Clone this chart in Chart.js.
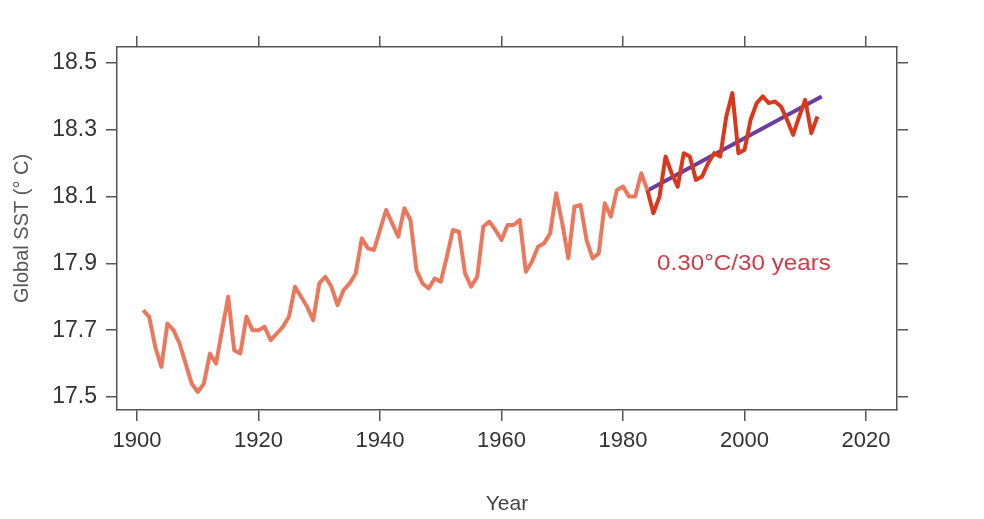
<!DOCTYPE html>
<html>
<head>
<meta charset="utf-8">
<script src="https://cdn.jsdelivr.net/npm/chart.js@4/dist/chart.umd.min.js"></script>
<style>
  body { margin: 0; background: #fff; }
  #wrap { width: 984px; height: 519px; }
</style>
</head>
<body>
<div id="wrap"><canvas id="sst" width="984" height="519"></canvas></div>
<script>
// Global SST, annual values
const earlyYears = [];
for (let y = 1901; y <= 1984; y++) earlyYears.push(y);
const earlySST = [
  17.76, 17.74, 17.65, 17.59, 17.72, 17.70, 17.66, 17.60, 17.54, 17.515,
  17.54, 17.63, 17.60, 17.70, 17.80, 17.64, 17.63, 17.74, 17.70, 17.70,
  17.71, 17.67, 17.69, 17.71, 17.74, 17.83, 17.80, 17.77, 17.73, 17.84,
  17.86, 17.83, 17.775, 17.82, 17.84, 17.87, 17.975, 17.945, 17.94, 18.00,
  18.06, 18.02, 17.98, 18.065, 18.03, 17.88, 17.84, 17.825, 17.855, 17.845,
  17.92, 18.00, 17.995, 17.87, 17.83, 17.86, 18.01, 18.025, 18.00, 17.97,
  18.015, 18.015, 18.03, 17.875, 17.905, 17.95, 17.96, 17.99, 18.11, 18.02,
  17.915, 18.07, 18.075, 17.97, 17.915, 17.93, 18.08, 18.04, 18.12, 18.13,
  18.10, 18.10, 18.17, 18.12
];

const recentYears = [];
for (let y = 1984; y <= 2012; y++) recentYears.push(y);
const recentSST = [
  18.12, 18.05, 18.10, 18.22, 18.17, 18.13, 18.23, 18.22, 18.15, 18.16,
  18.20, 18.23, 18.22, 18.34, 18.41, 18.23, 18.24, 18.33, 18.38, 18.40,
  18.38, 18.385, 18.37, 18.33, 18.285, 18.34, 18.39, 18.29, 18.34
];

const trendYears = [1984.2, 2012.7];
const trendSST = [18.12, 18.40];

const xTicks = [1900, 1920, 1940, 1960, 1980, 2000, 2020];
const yTicks = [17.5, 17.7, 17.9, 18.1, 18.3, 18.5];

const toPoints = (xs, ys) => xs.map((x, i) => ({ x: x, y: ys[i] }));

const FONT = "'Liberation Sans', Arial, sans-serif";
const AXIS = "#555";

function fixedTicks(values) {
  return function (scale) {
    scale.ticks = values.map((v) => ({ value: v }));
  };
}

function sizeTo(prop, px) {
  return function (scale) {
    scale[prop] = px;
  };
}

const baseGrid = {
  drawOnChartArea: false,
  drawTicks: true,
  tickLength: 11,
  color: AXIS,
  lineWidth: 1.5,
};
const baseBorder = { display: true, color: AXIS, width: 1.5 };

const labelPlugin = {
  id: "trendLabel",
  afterDatasetsDraw(chart) {
    const { ctx, scales } = chart;
    ctx.save();
    ctx.font = "22px " + FONT;
    ctx.fillStyle = "#d23a48";
    ctx.textAlign = "left";
    ctx.textBaseline = "middle";
    const x = scales.x.getPixelForValue(1985.6);
    const y = scales.y.getPixelForValue(17.898);
    // the original lettering is a little wider than Liberation Sans
    ctx.translate(x, y);
    ctx.scale(1.1, 1);
    ctx.fillText("0.30\u00B0C/30 years", 0, 0);
    ctx.restore();
  },
};

new Chart(document.getElementById("sst"), {
  type: "line",
  data: {
    datasets: [
      {
        data: toPoints(earlyYears, earlySST),
        borderColor: "#e9785c",
        borderWidth: 4,
        borderJoinStyle: "round",
        pointRadius: 0,
        tension: 0,
      },
      {
        data: toPoints(recentYears, recentSST),
        borderColor: "#d9381c",
        borderWidth: 4,
        borderJoinStyle: "round",
        pointRadius: 0,
        tension: 0,
      },
      {
        data: toPoints(trendYears, trendSST),
        borderColor: "#6a3d9e",
        borderWidth: 4,
        pointRadius: 0,
      },
    ],
  },
  options: {
    responsive: false,
    animation: false,
    layout: { padding: 0 },
    plugins: { legend: { display: false }, tooltip: { enabled: false } },
    scales: {
      x: {
        type: "linear",
        position: "bottom",
        min: 1896.7,
        max: 2025.1,
        afterBuildTicks: fixedTicks(xTicks),
        afterFit: sizeTo("height", 109),
        grid: baseGrid,
        border: baseBorder,
        ticks: {
          font: { family: FONT, size: 22 },
          color: "#333",
          padding: 7,
          maxRotation: 0,
          callback: (v) => String(v),
        },
        title: { display: true, text: "Year", font: { family: FONT, size: 21 }, color: "#444", padding: { top: 0, bottom: 2 } },
      },
      x2: {
        type: "linear",
        position: "top",
        min: 1896.7,
        max: 2025.1,
        afterBuildTicks: fixedTicks(xTicks),
        afterFit: sizeTo("height", 47),
        grid: baseGrid,
        border: baseBorder,
        ticks: { display: false },
      },
      y: {
        type: "linear",
        position: "left",
        min: 17.461,
        max: 18.548,
        afterBuildTicks: fixedTicks(yTicks),
        afterFit: sizeTo("width", 117),
        grid: baseGrid,
        border: baseBorder,
        ticks: {
          font: { family: FONT, size: 23 },
          color: "#333",
          padding: 9,
          callback: (v) => v.toFixed(1),
        },
        title: { display: true, text: "Global SST (\u00B0 C)", font: { family: FONT, size: 20 }, color: "#555", padding: { top: 10, bottom: 0 } },
      },
      y2: {
        type: "linear",
        position: "right",
        min: 17.461,
        max: 18.548,
        afterBuildTicks: fixedTicks(yTicks),
        afterFit: sizeTo("width", 87),
        grid: baseGrid,
        border: baseBorder,
        ticks: { display: false },
      },
    },
  },
  plugins: [labelPlugin],
});
</script>
</body>
</html>
